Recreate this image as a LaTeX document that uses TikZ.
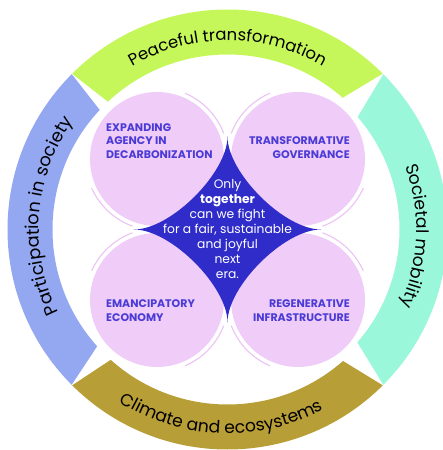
\documentclass[tikz,border=0pt]{standalone}
\usepackage{fontspec}
\setmainfont{Poppins}
\usetikzlibrary{decorations.text,calc}
\definecolor{ringgreen}{HTML}{C5F75B}
\definecolor{ringaqua}{HTML}{9AF7DA}
\definecolor{ringblue}{HTML}{94A8F2}
\definecolor{ringolive}{HTML}{B89E36}
\definecolor{circpink}{HTML}{F0CCF8}
\definecolor{arcpink}{HTML}{EBC2F3}
\definecolor{starblue}{HTML}{2F2CC9}
\definecolor{labelblue}{HTML}{4B3BD6}
\newcommand{\ringfont}[1]{\fontsize{#1}{#1}\selectfont}
\tikzset{
  segment/.style={draw=none},
  gap/.style={fill=white,draw=none},
  petal/.style={fill=circpink,draw=none},
  thinarc/.style={draw=arcpink,line width=1.1pt},
  caplabel/.style={text=labelblue,font=\fontsize{11}{13.5}\selectfont\bfseries,inner sep=0pt},
  centertext/.style={text=white,font=\fontsize{12.3}{15}\selectfont,align=center,inner sep=0pt},
  ringtext/.style={decorate,decoration={text along path,text align=center,text color=black}}
}
\begin{document}
\begin{tikzpicture}[x=1pt,y=1pt]
\useasboundingbox (-227.5,-220.5) rectangle (215.5,229.5);
% ring segments
\fill[ringgreen] (45:220) arc[start angle=45,end angle=135,radius=220] -- (135:175) arc[start angle=135,end angle=45,radius=175] -- cycle;
\fill[ringblue] (135:220) arc[start angle=135,end angle=225,radius=220] -- (225:175) arc[start angle=225,end angle=135,radius=175] -- cycle;
\fill[ringolive] (225:220) arc[start angle=225,end angle=315,radius=220] -- (315:175) arc[start angle=315,end angle=225,radius=175] -- cycle;
\fill[ringaqua] (-45:220) arc[start angle=-45,end angle=45,radius=220] -- (45:172) arc[start angle=45,end angle=-45,radius=172] -- cycle;
% white wedges between segments
\coordinate (jtl) at (135:221);
\coordinate (jtr) at (45:221);
\coordinate (jbl) at (225:221);
\coordinate (jbr) at (315:221);
\fill[gap] (jtl) -- ($(jtl)+(322:52)$) -- ($(jtl)+(308:52)$) -- cycle;
\fill[gap] (jtr) -- ($(jtr)+(239:52)$) -- ($(jtr)+(211:52)$) -- cycle;
\fill[gap] (jbl) -- ($(jbl)+(56.5:52)$) -- ($(jbl)+(33.5:52)$) -- cycle;
\fill[gap] (jbr) -- ($(jbr)+(148.5:52)$) -- ($(jbr)+(121.5:52)$) -- cycle;
% ring texts
\path[ringtext,decoration={text={|\ringfont{16.5}|Peaceful transformation}}] (150:189) arc[start angle=150,end angle=30,radius=189];
\path[ringtext,decoration={text={|\ringfont{17.2}|Societal mobility}}] (58:189) arc[start angle=58,end angle=-62,radius=189];
\path[ringtext,decoration={text={|\ringfont{17.8}|Participation in society}}] (235.4:188.5) arc[start angle=235.4,end angle=115.4,radius=188.5];
\path[ringtext,decoration={text={|\ringfont{17.2}|Climate and ecosystems}}] (208:204) arc[start angle=208,end angle=328,radius=204];
% petals
\fill[petal] (-70.5,70.5) circle[radius=67];
\fill[petal] (70.5,70.5) circle[radius=67];
\fill[petal] (-70.5,-70.5) circle[radius=67];
\fill[petal] (70.5,-70.5) circle[radius=67];
% thin arcs
\draw[thinarc] ($(-70.5,70.5)+(21:71.5)$) arc[start angle=21,end angle=67,radius=71.5];
\draw[thinarc] ($(-70.5,70.5)+(204:71.5)$) arc[start angle=204,end angle=250,radius=71.5];
\draw[thinarc] ($(70.5,70.5)+(113:71.5)$) arc[start angle=113,end angle=159,radius=71.5];
\draw[thinarc] ($(70.5,70.5)+(290:71.5)$) arc[start angle=290,end angle=336,radius=71.5];
\draw[thinarc] ($(-70.5,-70.5)+(293:71.5)$) arc[start angle=293,end angle=339,radius=71.5];
\draw[thinarc] ($(-70.5,-70.5)+(110:71.5)$) arc[start angle=110,end angle=156,radius=71.5];
\draw[thinarc] ($(70.5,-70.5)+(201:71.5)$) arc[start angle=201,end angle=247,radius=71.5];
\draw[thinarc] ($(70.5,-70.5)+(24:71.5)$) arc[start angle=24,end angle=70,radius=71.5];
% star (astroid)
\fill[starblue] (0,93) .. controls (0,56.7) and (56.7,0) .. (93.5,0)
  .. controls (56.7,0) and (0,-56.7) .. (0,-93)
  .. controls (0,-56.7) and (-56.7,0) .. (-93.5,0)
  .. controls (-56.7,0) and (0,56.7) .. (0,93) -- cycle;
% labels
\node[caplabel,anchor=west,align=left] (tl) at (-121.5,88.5) {EXPANDING\\AGENCY IN\\DECARBONIZATION};
\node[caplabel,anchor=east,align=right] (tr) at (122.5,81.8) {TRANSFORMATIVE\\GOVERNANCE};
\node[caplabel,anchor=west,align=left] (bl) at (-121.5,-81.3) {EMANCIPATORY\\ECONOMY};
\node[caplabel,anchor=east,align=right] (br) at (122.5,-81.3) {REGENERATIVE\\INFRASTRUCTURE};
\node[centertext] (mid) at (0,0.5) {Only\\\textbf{together}\\can we fight\\for a fair, sustainable\\and joyful\\next\\era.};
\end{tikzpicture}
\end{document}
